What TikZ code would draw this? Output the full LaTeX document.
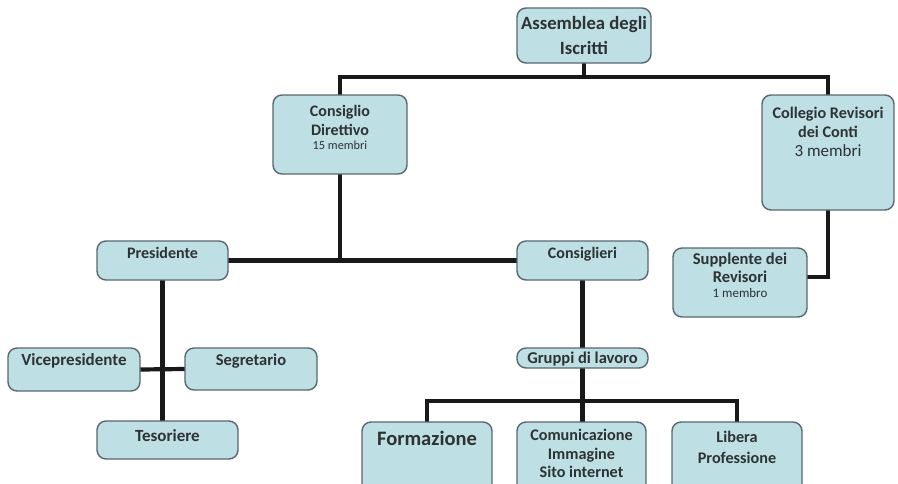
\documentclass[tikz,border=0pt]{standalone}
\usepackage{fontspec}
\setmainfont{Carlito}
\usetikzlibrary{backgrounds}
\definecolor{boxfill}{RGB}{190,223,228}
\definecolor{boxline}{RGB}{88,104,110}
\definecolor{txtc}{RGB}{45,50,52}
\tikzset{
  box/.style={draw=boxline, fill=boxfill, line width=1.4pt, rounded corners=9pt, inner sep=0pt, outer sep=0pt, anchor=north west},
  txt/.style={text=txtc, anchor=base, inner sep=0pt},
  conn/.style={line width=4.2pt, draw=black!90},
}
\newcommand\obox[5]{\node[box, minimum width={#4-#2}, minimum height={#5-#3}] (#1) at (#2,#3) {};}
\newcommand\tline[5]{\node[txt, font={#4}] (#1) at (#2,#3) {#5};}
\newcommand\bsz[1]{\bfseries\fontsize{#1}{#1}\selectfont}
\newcommand\rsz[1]{\mdseries\fontsize{#1}{#1}\selectfont}
\begin{document}
\begin{tikzpicture}[x=1pt,y=-1pt]
\useasboundingbox (0,0) rectangle (898,483);
\clip (0,0) rectangle (898,483);
\coordinate (h1) at (340,77);
\coordinate (h2) at (828,77);
\coordinate (j2) at (340,262);
\coordinate (j3) at (583,401);
% boxes
\obox{asm}{517}{8}{651}{63}
\obox{cd}{273}{95}{407}{174}
\obox{cr}{762}{95}{894}{210}
\obox{sup}{673}{248}{807}{317}
\obox{pres}{97}{241}{228}{280}
\obox{cons}{517}{241}{648}{280}
\obox{vice}{8}{348}{140}{391}
\obox{seg}{185}{348}{317}{390}
\obox{tes}{97}{421}{238}{459}
\obox{grp}{517}{348}{648}{368}
\obox{form}{362}{422}{492}{500}
\obox{com}{517}{422}{646}{500}
\obox{lib}{672}{422}{802}{500}
\begin{scope}[on background layer]
\draw[conn] (asm.south) -- (asm.south |- h1);
\draw[conn] (cd.north) -- (h1) -- (h2) -- (cr.north);
\draw[conn] (cd.south) -- (j2);
\draw[conn] (pres.east) -- (cons.west);
\draw[conn] (cr.south) |- ([yshift=5.5pt]sup.east);
\draw[conn] (pres.south) -- (pres.south |- tes.north);
\draw[conn] (vice.east) -- (seg.west);
\draw[conn] (cons.south) -- (cons.south |- grp.north);
\draw[conn] (grp.south) -- (grp.south |- com.north);
\draw[conn] (form.north) |- (lib.north |- j3) -- (lib.north);
\end{scope}
% texts
\tline{asm1}{584}{29}{\bsz{18.7}}{Assemblea degli}
\tline{asm2}{584}{54}{\bsz{18.7}}{Iscritti}
\tline{cd1}{340}{116.5}{\bsz{16}}{Consiglio}
\tline{cd2}{340}{135}{\bsz{16}}{Direttivo}
\tline{cd3}{340}{149.5}{\rsz{12.3}}{15 membri}
\tline{cr1}{828}{118.5}{\bsz{16.2}}{Collegio Revisori}
\tline{cr2}{828}{137.5}{\bsz{16.2}}{dei Conti}
\tline{cr3}{828}{156}{\rsz{17}}{3 membri}
\tline{sup1}{740}{264}{\bsz{16.5}}{Supplente dei}
\tline{sup2}{740}{282}{\bsz{16.5}}{Revisori}
\tline{sup3}{740}{297.5}{\rsz{13}}{1 membro}
\tline{pres1}{162.5}{258.5}{\bsz{16}}{Presidente}
\tline{cons1}{582.5}{258.5}{\bsz{16}}{Consiglieri}
\tline{vice1}{74}{365}{\bsz{17}}{Vicepresidente}
\tline{seg1}{251}{365}{\bsz{16.5}}{Segretario}
\tline{tes1}{167.5}{441}{\bsz{17}}{Tesoriere}
\tline{grp1}{582.5}{363}{\bsz{16.5}}{Gruppi di lavoro}
\tline{form1}{427}{445}{\bsz{20.5}}{Formazione}
\tline{com1}{581.5}{440.5}{\bsz{16.2}}{Comunicazione}
\tline{com2}{581.5}{459}{\bsz{16.2}}{Immagine}
\tline{com3}{581.5}{477.5}{\bsz{16.2}}{Sito internet}
\tline{lib1}{737}{442}{\bsz{16.2}}{Libera}
\tline{lib2}{737}{463.5}{\bsz{16.2}}{Professione}
\end{tikzpicture}
\end{document}
